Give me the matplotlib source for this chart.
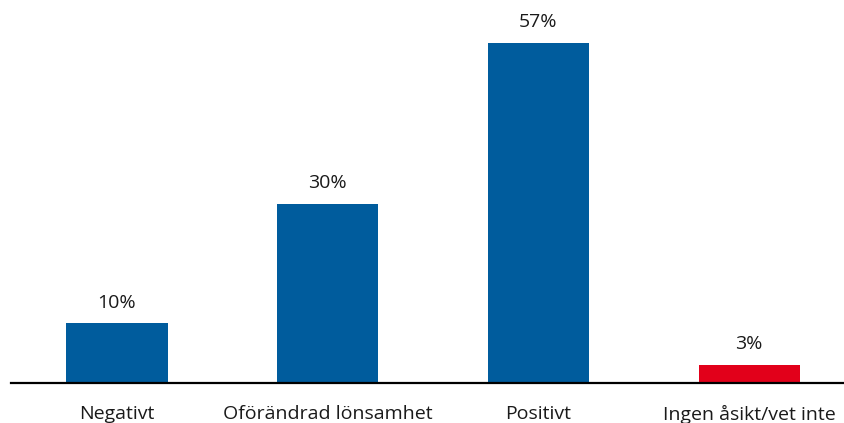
import matplotlib
matplotlib.use("Agg")
import matplotlib.pyplot as plt

categories = ["Negativt", "Oförändrad lönsamhet", "Positivt", "Ingen åsikt/vet inte"]
values = [10, 30, 57, 3]
labels = ["10%", "30%", "57%", "3%"]
colors = ["#005C9D", "#005C9D", "#005C9D", "#E2001A"]

plt.rcParams['font.family'] = ['Open Sans', 'DejaVu Sans']

W, H = 844, 423
fig = plt.figure(figsize=(W/100, H/100), dpi=100)
ax = fig.add_axes([11/W, (H-383)/H, (W-11)/W, 383/H])

x = list(range(len(categories)))
ax.bar(x, values, width=0.48, color=colors, zorder=2)
for xi, v, lab in zip(x, values, labels):
    ax.annotate(lab, (xi, v), xytext=(0, 8.5), textcoords="offset points",
                ha="center", va="bottom", fontsize=14, color="#1a1a1a")

ax.set_xlim(-0.503, 3.45)
ax.set_ylim(0, 57 * 383 / 340)
ax.set_xticks(x)
ax.set_xticklabels(categories, fontsize=14, color="#1a1a1a")
ax.tick_params(axis="x", length=0, pad=15.5)
ax.set_yticks([])
for s in ["top", "right", "left"]:
    ax.spines[s].set_visible(False)
ax.spines["bottom"].set_linewidth(1.6)
ax.spines["bottom"].set_color("#000000")
ax.set_facecolor("none")

fig.savefig("out.png", dpi=100)
